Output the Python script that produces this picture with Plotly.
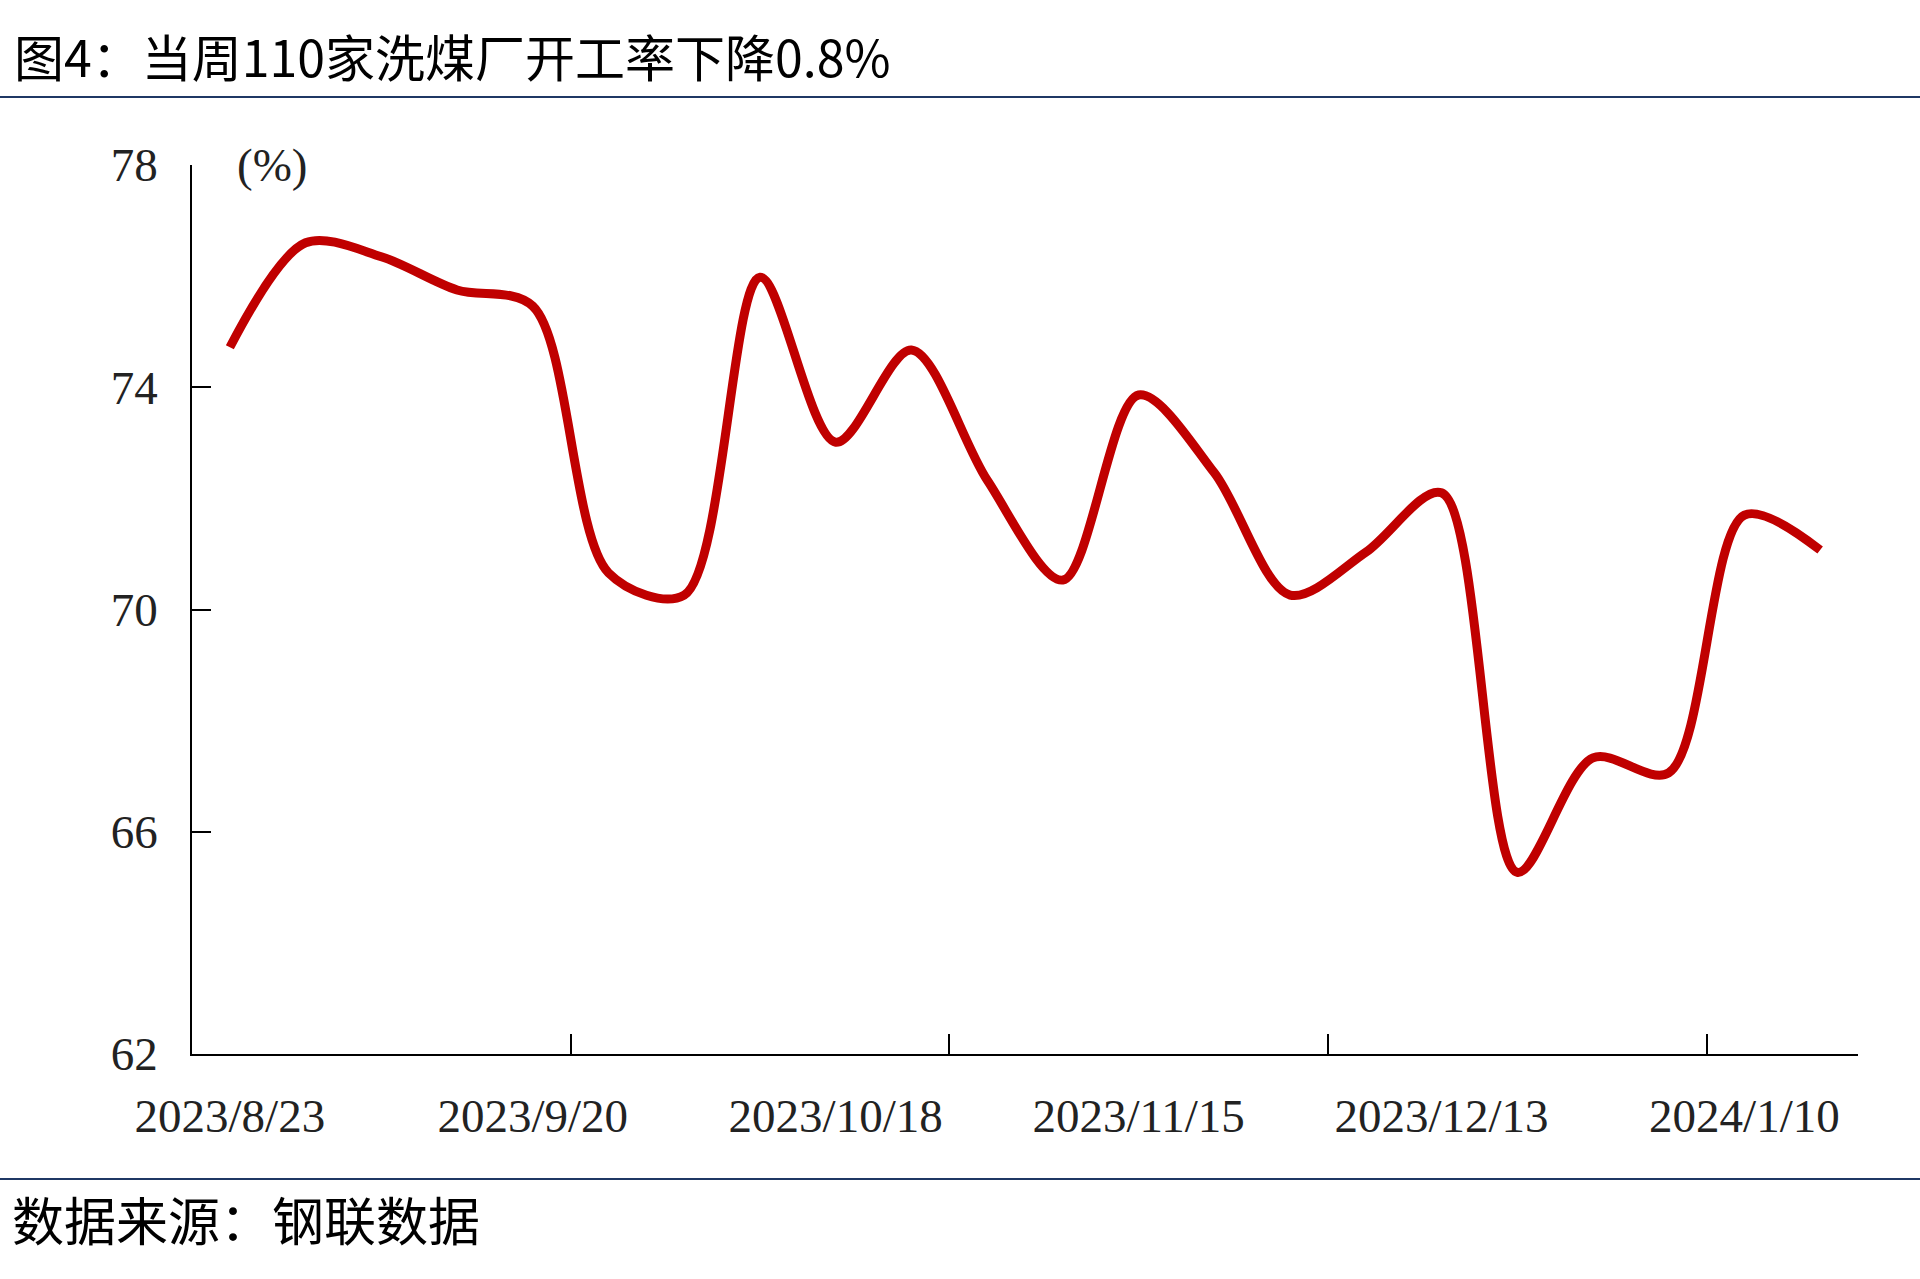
import plotly.graph_objects as go

dates = ["2023/8/23", "2023/8/30", "2023/9/6", "2023/9/13", "2023/9/20", "2023/9/27",
         "2023/10/4", "2023/10/11", "2023/10/18", "2023/10/25", "2023/11/1", "2023/11/8",
         "2023/11/15", "2023/11/22", "2023/11/29", "2023/12/6", "2023/12/13", "2023/12/20",
         "2023/12/27", "2024/1/3", "2024/1/10", "2024/1/17"]
rate = [74.72, 76.60, 76.35, 75.75, 75.46, 70.66, 70.26, 75.98, 73.01, 74.67, 72.33,
        70.53, 73.86, 72.46, 70.26, 71.03, 72.10, 65.27, 67.33, 67.06, 71.70, 71.07]
y_ticks = [62, 66, 70, 74, 78]

idx = list(range(len(dates)))
label_pos = idx[::4]
label_text = [dates[i] for i in label_pos]
tick_pos = [i + 0.5 for i in idx[4::5] if i + 0.5 < len(dates) - 1]

fig = go.Figure()
fig.add_trace(go.Scatter(
    x=idx, y=rate, mode="lines",
    line=dict(color="#C00000", width=9, shape="spline", smoothing=0.9),
    showlegend=False, hoverinfo="skip"))
# invisible trace for the secondary x axis (tick marks)
fig.add_trace(go.Scatter(x=[idx[0], idx[-1]], y=[rate[0], rate[-1]], mode="markers",
                         marker=dict(opacity=0), xaxis="x2", showlegend=False,
                         hoverinfo="skip"))

W, H = 1920, 1279
L, R, T, B = 192, 1858, 165, 1054
pw, ph = R - L, B - T

def px(xp):
    return (xp - L) / pw

def py(yp):
    return (B - yp) / ph

xrange = [-0.5, len(dates) - 0.5]
tickfont = dict(family="Liberation Serif, Times New Roman, serif", size=47, color="#222222")

fig.update_layout(
    width=W, height=H,
    margin=dict(l=L, r=W - R, t=T, b=H - B),
    paper_bgcolor="white", plot_bgcolor="white",
    xaxis=dict(range=xrange, tickmode="array", tickvals=label_pos, ticktext=label_text,
               ticks="", showgrid=False, zeroline=False, showline=True,
               linecolor="black", linewidth=2, tickfont=tickfont,
               ticklabelstandoff=20),
    xaxis2=dict(range=xrange, overlaying="x", anchor="y", side="bottom",
                tickmode="array", tickvals=tick_pos, ticks="inside", ticklen=20,
                tickwidth=1.5, tickcolor="black", showticklabels=False,
                showgrid=False, zeroline=False, showline=False),
    yaxis=dict(range=[62, 78], tickmode="array", tickvals=y_ticks,
               ticks="inside", ticklen=19, tickwidth=2, tickcolor="black",
               showgrid=False, zeroline=False, showline=True, linecolor="black",
               linewidth=1.5, tickfont=tickfont, ticklabelstandoff=23),
)

fig.add_shape(type="line", xref="paper", yref="paper", x0=px(0), x1=px(W),
              y0=py(97), y1=py(97), line=dict(color="#1F3864", width=2))
fig.add_shape(type="line", xref="paper", yref="paper", x0=px(0), x1=px(W),
              y0=py(1179), y1=py(1179), line=dict(color="#1F3864", width=2))

cjk = "Noto Sans CJK SC, sans-serif"
fig.add_annotation(text="图4：当周110家洗煤厂开工率下降0.8%", xref="paper", yref="paper",
                   x=px(12), y=py(55), xanchor="left", yanchor="middle",
                   showarrow=False, font=dict(family=cjk, size=50, color="black"))
fig.add_annotation(text="数据来源：钢联数据", xref="paper", yref="paper",
                   x=px(10), y=py(1218), xanchor="left", yanchor="middle",
                   showarrow=False, font=dict(family=cjk, size=52, color="black"))
fig.add_annotation(text="(%)", xref="paper", yref="paper",
                   x=px(272), y=py(165), xanchor="center", yanchor="middle",
                   showarrow=False, font=tickfont)

fig.write_html("out.html", post_script="document.body.style.margin='0';",
               config={"displayModeBar": False})
